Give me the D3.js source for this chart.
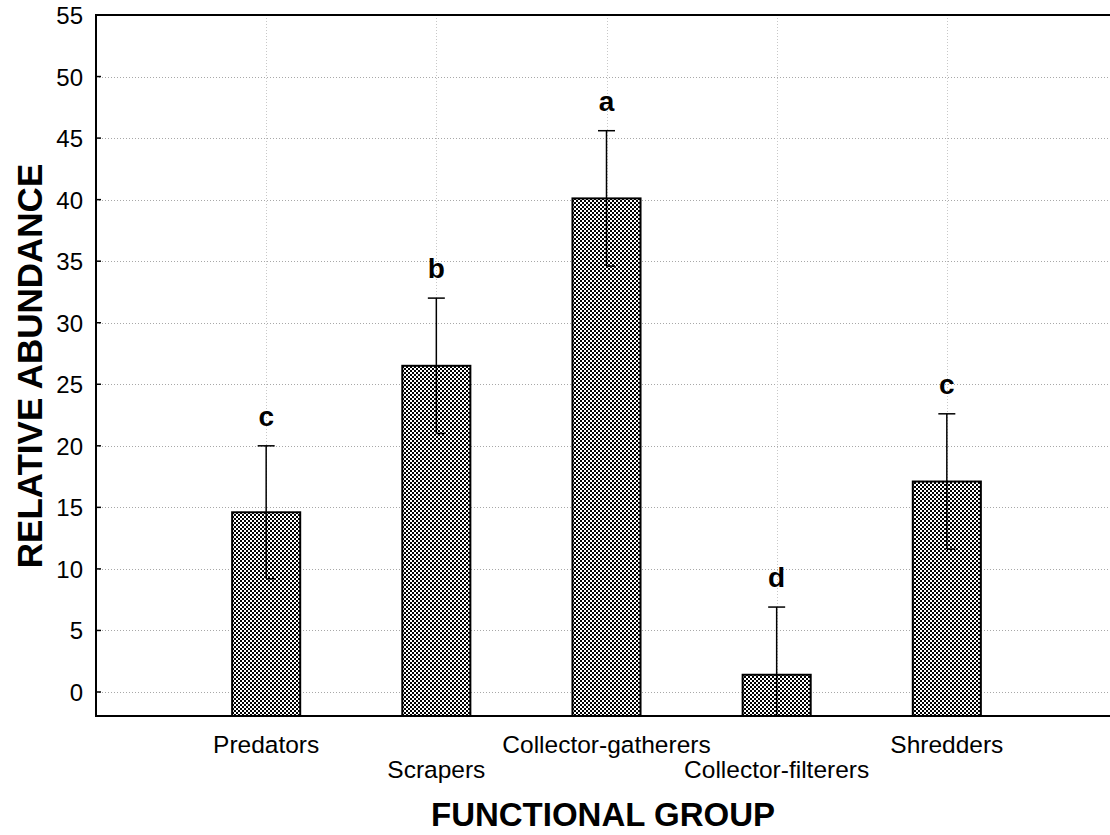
<!DOCTYPE html>
<html>
<head>
<meta charset="utf-8">
<script src="https://cdn.jsdelivr.net/npm/d3@7"></script>
<style>
  body { margin: 0; background: #fff; }
  svg { display: block; font-family: "Liberation Sans", Arial, sans-serif; }
</style>
</head>
<body>
<svg id="chart" width="1110" height="835"></svg>
<script>
// data
const categories = ["Predators", "Scrapers", "Collector-gatherers", "Collector-filterers", "Shredders"]
const means = [14.6, 26.5, 40.1, 1.4, 17.1]
const upper = [20.0, 32.0, 45.6, 6.9, 22.6]
const letters = ["c", "b", "a", "d", "c"]
const yTicks = [0, 5, 10, 15, 20, 25, 30, 35, 40, 45, 50, 55]

const plotL = 96, plotR = 1110, plotT = 15, plotB = 716
const yMin = -1.95

const svg = d3.select("#chart")

// checker fill for bars
const defs = svg.append("defs")
const pat = defs.append("pattern")
    .attr("id", "checker")
    .attr("patternUnits", "userSpaceOnUse")
    .attr("width", 4).attr("height", 4)
pat.append("rect").attr("width", 4).attr("height", 4).attr("fill", "#fff")
pat.append("rect").attr("x", 0).attr("y", 0).attr("width", 2).attr("height", 2).attr("fill", "#000")
pat.append("rect").attr("x", 2).attr("y", 2).attr("width", 2).attr("height", 2).attr("fill", "#000")

// scales
let yScale = d3.scaleLinear()
    .domain([yMin, 55])
    .range([plotB, plotT])

let xScale = d3.scalePoint()
    .domain(categories)
    .range([plotL, 1117])
    .padding(1)

let barW = xScale.step() * 0.4

// grid lines
let grid = svg.append("g")
grid.selectAll("line.h")
    .data(yTicks.filter(d => d < 55))
    .enter().append("line")
    .attr("class", "h")
    .attr("x1", plotL).attr("x2", plotR)
    .attr("y1", d => Math.round(yScale(d)) + 0.5)
    .attr("y2", d => Math.round(yScale(d)) + 0.5)
    .attr("stroke", "#a8a8a8")
    .attr("stroke-width", 1)
    .attr("stroke-dasharray", "1,2")
grid.selectAll("line.v")
    .data(categories)
    .enter().append("line")
    .attr("class", "v")
    .attr("x1", d => Math.round(xScale(d)) + 0.5)
    .attr("x2", d => Math.round(xScale(d)) + 0.5)
    .attr("y1", plotT).attr("y2", plotB)
    .attr("stroke", "#c8c8c8")
    .attr("stroke-width", 1)
    .attr("stroke-dasharray", "1,2")

// bars
svg.append("g")
    .selectAll("rect")
    .data(categories)
    .enter().append("rect")
    .attr("x", d => xScale(d) - barW / 2)
    .attr("width", barW)
    .attr("y", (d, i) => yScale(means[i]))
    .attr("height", (d, i) => yScale(yMin) - yScale(means[i]))
    .attr("fill", "url(#checker)")
    .attr("stroke", "#000")
    .attr("stroke-width", 2)

// error bars
let capW = 17
let err = svg.append("g").attr("stroke", "#000").attr("stroke-width", 1.5)
categories.forEach(function (c, i) {
    let x = xScale(c)
    let lo = means[i] - (upper[i] - means[i])
    err.append("line")
        .attr("x1", x).attr("x2", x)
        .attr("y1", yScale(upper[i])).attr("y2", yScale(Math.max(lo, yMin)))
    err.append("line")
        .attr("x1", x - capW / 2).attr("x2", x + capW / 2)
        .attr("y1", yScale(upper[i])).attr("y2", yScale(upper[i]))
    if (lo > yMin) {
        err.append("line")
            .attr("x1", x).attr("x2", x + capW / 2)
            .attr("y1", yScale(lo)).attr("y2", yScale(lo))
    }
})

// significance letters
svg.append("g")
    .selectAll("text")
    .data(categories)
    .enter().append("text")
    .attr("x", d => xScale(d))
    .attr("y", (d, i) => yScale(upper[i]) - 20)
    .attr("text-anchor", "middle")
    .attr("font-size", "28px")
    .attr("font-weight", "bold")
    .text((d, i) => letters[i])

// axes frame
let frame = svg.append("g").attr("stroke", "#000").attr("stroke-width", 2).attr("fill", "none")
frame.append("line").attr("x1", plotL).attr("x2", plotL).attr("y1", plotT - 1).attr("y2", plotB + 1)
frame.append("line").attr("x1", plotL).attr("x2", plotR).attr("y1", plotT).attr("y2", plotT)
frame.append("line").attr("x1", plotL).attr("x2", plotR).attr("y1", plotB).attr("y2", plotB)

// y axis ticks and labels
let yAxis = svg.append("g")
yAxis.selectAll("line")
    .data(yTicks)
    .enter().append("line")
    .attr("x1", plotL).attr("x2", plotL + 5)
    .attr("y1", d => yScale(d)).attr("y2", d => yScale(d))
    .attr("stroke", "#000").attr("stroke-width", 1.5)
yAxis.selectAll("text")
    .data(yTicks)
    .enter().append("text")
    .attr("x", 83)
    .attr("y", d => yScale(d) + 9)
    .attr("text-anchor", "end")
    .attr("font-size", "24px")
    .text(d => d)

// category labels, staggered on two rows
svg.append("g")
    .selectAll("text")
    .data(categories)
    .enter().append("text")
    .attr("x", d => xScale(d))
    .attr("y", (d, i) => i % 2 === 0 ? 753 : 778)
    .attr("text-anchor", "middle")
    .attr("font-size", "24.5px")
    .text(d => d)

// titles
svg.append("text")
    .attr("x", (plotL + plotR) / 2)
    .attr("y", 826)
    .attr("text-anchor", "middle")
    .attr("font-size", "33px")
    .attr("font-weight", "bold")
    .text("FUNCTIONAL GROUP")

svg.append("text")
    .attr("transform", "translate(42,366) rotate(-90)")
    .attr("text-anchor", "middle")
    .attr("font-size", "35px")
    .attr("font-weight", "bold")
    .text("RELATIVE ABUNDANCE")
</script>
</body>
</html>
